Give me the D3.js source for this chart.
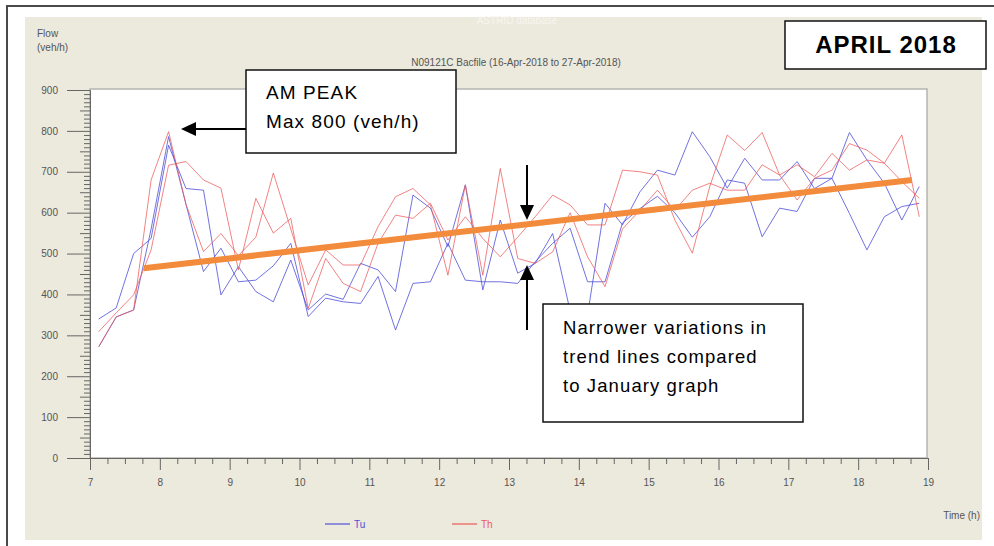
<!DOCTYPE html>
<html>
<head>
<meta charset="utf-8">
<script src="https://cdn.jsdelivr.net/npm/d3@7"></script>
<style>
  html, body { margin: 0; padding: 0; background: #ffffff; }
  svg { display: block; }
</style>
</head>
<body>
<svg id="chart" width="994" height="546"></svg>
<script>
// ---- data ----
const times = [7.125,7.375,7.625,7.875,8.125,8.375,8.625,8.875,9.125,9.375,9.625,9.875,
  10.125,10.375,10.625,10.875,11.125,11.375,11.625,11.875,12.125,12.375,12.625,12.875,
  13.125,13.375,13.625,13.875,14.125,14.375,14.625,14.875,15.125,15.375,15.625,15.875,
  16.125,16.375,16.625,16.875,17.125,17.375,17.625,17.875,18.125,18.375,18.625,18.875];

const tuWeek1 = [340,367,500,537,765,659,655,399,468,407,382,484,
  362,401,388,476,460,407,643,611,517,668,411,582,
  452,476,549,360,350,623,570,651,704,692,798,737,
  660,733,680,680,725,659,684,796,729,672,582,664];
const tuWeek2 = [272,345,362,560,786,620,456,513,431,435,470,525,
  346,391,382,378,444,313,427,431,525,435,431,431,
  427,480,525,562,431,431,575,610,640,600,540,590,
  680,672,541,611,603,684,684,598,509,590,615,623];
const thWeek1 = [272,345,362,680,798,620,505,549,495,540,697,560,
  423,509,472,472,566,639,659,619,447,668,447,708,
  488,476,504,600,492,419,560,606,655,606,655,672,
  655,655,717,692,631,684,704,769,753,721,676,635];
const thWeek2 = [309,355,399,509,716,725,680,660,460,635,550,586,
  366,488,427,407,525,594,586,623,533,590,537,492,
  540,590,643,619,570,570,704,700,692,582,501,664,
  790,752,796,692,717,688,745,704,729,721,790,590];

const trendTimes = [7.77, 18.77];
const trendValues = [464, 680];

const xTicks = [7,8,9,10,11,12,13,14,15,16,17,18,19];
const yTicks = [0,100,200,300,400,500,600,700,800,900];
const seriesNames = ["Tu", "Th"];

// ---- drawing ----
const svg = d3.select("#chart");
const x = d3.scaleLinear().domain([7, 19]).range([90, 928]);
const y = d3.scaleLinear().domain([0, 900]).range([458, 90]);

// frame + beige panel
svg.append("rect").attr("x", 0).attr("y", 0).attr("width", 994).attr("height", 546).attr("fill", "#fff");
svg.append("rect").attr("x", 25).attr("y", 17).attr("width", 957).attr("height", 523).attr("fill", "#ECE9DD");
svg.append("path").attr("d", "M7,546 V6 H994").attr("fill", "none").attr("stroke", "#4a4a4a").attr("stroke-width", 2);

// plot area
svg.append("rect").attr("x", 90).attr("y", 89).attr("width", 837).attr("height", 369)
  .attr("fill", "#fff").attr("stroke", "#b4b4b0").attr("stroke-width", 1.5);

// header texts
const small = "'Liberation Sans', Arial, sans-serif";
svg.append("text").attr("x", 37).attr("y", 37).text("Flow")
  .attr("font-family", small).attr("font-size", 10).attr("fill", "#555");
svg.append("text").attr("x", 37).attr("y", 51).text("(veh/h)")
  .attr("font-family", small).attr("font-size", 10).attr("fill", "#555");
svg.append("text").attr("x", 516).attr("y", 66).attr("text-anchor", "middle")
  .text("N09121C Bacfile (16-Apr-2018 to 27-Apr-2018)")
  .attr("font-family", small).attr("font-size", 10).attr("fill", "#555");
svg.append("text").attr("x", 517).attr("y", 24).attr("text-anchor", "middle")
  .text("ASTRID database")
  .attr("font-family", small).attr("font-size", 10).attr("fill", "#f7f6f0");
svg.append("text").attr("x", 980).attr("y", 519).attr("text-anchor", "end")
  .text("Time (h)")
  .attr("font-family", small).attr("font-size", 10).attr("fill", "#555");

// y axis: major, medium, minor ticks
const yMajor = d3.axisLeft(y).tickValues(yTicks).tickSize(23).tickPadding(9).tickFormat(d3.format("d"));
const gy = svg.append("g").attr("transform", "translate(90,0)").call(yMajor);
const minorVals = d3.range(0, 901, 10).filter(v => v % 100 !== 0);
const gyMinor = svg.append("g").attr("transform", "translate(90,0)")
  .call(d3.axisLeft(y).tickValues(minorVals).tickSize(6).tickFormat(""));
gyMinor.selectAll(".tick line").filter(d => d % 50 === 0).attr("x2", -10);
gyMinor.select(".domain").remove();

// x axis: hour and quarter ticks
const gx = svg.append("g").attr("transform", "translate(0,458)")
  .call(d3.axisBottom(x).tickValues(xTicks).tickSize(12).tickPadding(9).tickFormat(d3.format("d")));
const quarterVals = d3.range(7.25, 19, 0.25).filter(v => v % 1 !== 0);
const gxMinor = svg.append("g").attr("transform", "translate(0,458)")
  .call(d3.axisBottom(x).tickValues(quarterVals).tickSize(6).tickFormat(""));
gxMinor.select(".domain").remove();

[gy, gx, gyMinor, gxMinor].forEach(g => {
  g.selectAll("line").attr("stroke", "#666");
  g.selectAll(".domain").attr("stroke", "#666");
  g.selectAll("text").attr("font-family", small).attr("font-size", 10).attr("fill", "#555");
});

// data lines
const line = d3.line().x((d, i) => x(times[i])).y(d => y(d));
const blue = "#4f4fd8", red = "#ec5a5a";
[tuWeek1, tuWeek2].forEach(s => svg.append("path").datum(s).attr("d", line)
  .attr("fill", "none").attr("stroke", blue).attr("stroke-width", 1).attr("stroke-opacity", 0.8));
[thWeek1, thWeek2].forEach(s => svg.append("path").datum(s).attr("d", line)
  .attr("fill", "none").attr("stroke", red).attr("stroke-width", 1).attr("stroke-opacity", 0.75));

// trend line
svg.append("path").datum(trendValues)
  .attr("d", d3.line().x((d, i) => x(trendTimes[i])).y(d => y(d)))
  .attr("stroke", "#F28B3B").attr("stroke-width", 6).attr("fill", "none");

// legend
const legend = [{name: seriesNames[0], color: blue, x0: 325}, {name: seriesNames[1], color: red, x0: 452}];
legend.forEach(l => {
  svg.append("line").attr("x1", l.x0).attr("x2", l.x0 + 25).attr("y1", 524).attr("y2", 524)
    .attr("stroke", l.color).attr("stroke-width", 1.2);
  svg.append("text").attr("x", l.x0 + 29).attr("y", 528).text(l.name)
    .attr("font-family", small).attr("font-size", 10).attr("fill", l.color);
});

// annotations
const ann = "'Liberation Sans', Arial, Helvetica, sans-serif";
function box(x0, y0, w, h) {
  svg.append("rect").attr("x", x0).attr("y", y0).attr("width", w).attr("height", h)
    .attr("fill", "#fff").attr("stroke", "#111").attr("stroke-width", 1.5);
}
function label(tx, ty, str, size, weight, anchor, ls) {
  svg.append("text").attr("x", tx).attr("y", ty).text(str)
    .attr("font-family", ann).attr("font-size", size).attr("font-weight", weight || "normal")
    .attr("letter-spacing", ls)
    .attr("text-anchor", anchor || "start").attr("fill", "#000");
}
function arrow(x1, y1, x2, y2) {
  const ang = Math.atan2(y2 - y1, x2 - x1), L = 15, W = 7;
  const bx = x2 - L * Math.cos(ang), by = y2 - L * Math.sin(ang);
  svg.append("line").attr("x1", x1).attr("y1", y1).attr("x2", bx).attr("y2", by)
    .attr("stroke", "#000").attr("stroke-width", 2);
  const px = -Math.sin(ang) * W, py = Math.cos(ang) * W;
  svg.append("path").attr("d", `M${x2},${y2} L${bx + px},${by + py} L${bx - px},${by - py} Z`).attr("fill", "#000");
}

box(246, 70, 210, 83);
label(266, 99, "AM PEAK", 19, "normal", "start", 1.1);
label(266, 128, "Max 800 (veh/h)", 19, "normal", "start", 1.1);
arrow(246, 129, 181, 129);

box(785, 21, 201, 48);
label(886, 53, "APRIL 2018", 24, "bold", "middle", 1.0);

arrow(527, 165, 527, 220);
arrow(527, 330, 527, 265);

box(543, 304, 260, 118);
label(563, 334, "Narrower variations in", 18.5, "normal", "start", 1.1);
label(563, 363, "trend lines compared", 18.5, "normal", "start", 1.1);
label(563, 392, "to January graph", 18.5, "normal", "start", 1.1);
</script>
</body>
</html>
